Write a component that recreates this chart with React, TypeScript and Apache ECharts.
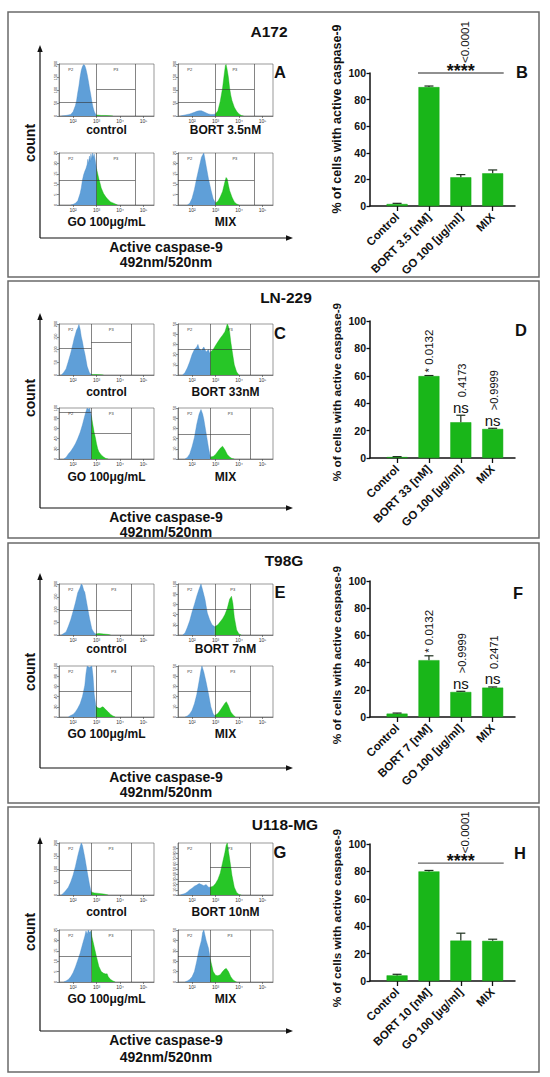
import React, { useEffect, useRef } from "react";
import * as echarts from "echarts";

const FONT = '"Liberation Sans", Arial, Helvetica, sans-serif';
const INK = "#111111";

// ---------------- bar charts (mean % of cells with active caspase-9, error) ----------------
const a172Categories = ["Control", "BORT 3.5 [nM]", "GO 100 [µg/ml]", "MIX"];
const a172Values = [1.5, 89.4, 21.6, 24.6];
const a172Errors = [0.5, 0.8, 2.0, 2.5];

const ln229Categories = ["Control", "BORT 33 [nM]", "GO 100 [µg/ml]", "MIX"];
const ln229Values = [0.7, 59.8, 26.1, 21.2];
const ln229Errors = [0.3, 0.4, 5.1, 0.5];

const t98gCategories = ["Control", "BORT 7 [nM]", "GO 100 [µg/ml]", "MIX"];
const t98gValues = [2.5, 41.8, 18.4, 21.6];
const t98gErrors = [0.4, 3.2, 0.5, 0.5];

const u118Categories = ["Control", "BORT 10 [nM]", "GO 100 [µg/ml]", "MIX"];
const u118Values = [4.1, 80.0, 29.5, 29.3];
const u118Errors = [0.8, 0.7, 5.4, 1.2];

const barTickIndex = [0, 1, 2, 3];

// significance annotations
const a172Bracket = { from: 1, to: 3, y: 100, stars: "****", p: "<0.0001" };
const u118Bracket = { from: 1, to: 3, y: 86, stars: "****", p: "<0.0001" };
const ln229Marks = [
  { i: 1, ns: false, text: "* 0.0132" },
  { i: 2, ns: true, text: "0.4173" },
  { i: 3, ns: true, text: ">0.9999" },
];
const t98gMarks = [
  { i: 1, ns: false, text: "* 0.0132" },
  { i: 2, ns: true, text: ">0.9999" },
  { i: 3, ns: true, text: "0.2471" },
];

// ---------------- flow cytometry histograms (x = log10 fluorescence, y = count) ----------------
const histTickValues = [2, 3, 4, 5];
const histTickLabels = ["10²", "10³", "10⁴", "10⁵"];

// A172
const a172Labels = ["control", "BORT 3.5nM", "GO 100μg/mL", "MIX"];
const a172Gates = [3.0, 4.65];
const a172YMax = [200, 200, 25, 25];
const a172YStep = [50, 50, 5, 5];
const a172P2Level = [54, 54, 12, 12];
const a172P3Level = [104, 104, 12, 12];
const a172ControlBlue = [[1.5,0],[1.7,2],[1.9,6],[2.0,16],[2.1,40],[2.15,60],[2.2,90],[2.25,116],[2.3,150],[2.35,176],[2.4,190],[2.45,198],[2.5,194],[2.55,180],[2.6,160],[2.65,136],[2.7,108],[2.75,84],[2.8,56],[2.85,34],[2.9,18],[2.95,8],[3.0,4]];
const a172ControlGreen = [[3.0,4],[3.2,2],[3.4,2],[3.6,1],[3.7,0]];
const a172BortBlue = [[1.5,0],[1.7,4],[1.9,8],[2.1,14],[2.2,18],[2.3,20],[2.4,20],[2.5,16],[2.6,12],[2.7,8],[2.8,6],[2.9,6],[3.0,8]];
const a172BortGreen = [[3.0,8],[3.1,20],[3.2,56],[3.3,108],[3.37,160],[3.42,194],[3.45,198],[3.5,176],[3.55,148],[3.6,108],[3.65,80],[3.7,60],[3.8,34],[3.9,18],[4.0,8],[4.1,2],[4.2,0]];
const a172GoBlue = [[1.9,0],[2.0,0.3],[2.1,0.8],[2.2,2],[2.3,5.5],[2.35,8.2],[2.4,12],[2.45,14.5],[2.5,16.2],[2.55,17.5],[2.6,19.5],[2.63,22],[2.66,20],[2.7,23.5],[2.73,21],[2.76,24.5],[2.8,22],[2.83,25],[2.86,23],[2.9,24.5],[2.95,21],[3.0,17.5]];
const a172GoGreen = [[3.0,17.5],[3.05,15],[3.1,12.5],[3.15,10.5],[3.2,8.2],[3.3,5.5],[3.4,3.8],[3.5,2.5],[3.6,1.5],[3.7,1],[3.8,0.5],[3.9,0]];
const a172MixBlue = [[1.8,0],[1.9,0.8],[2.0,3.2],[2.1,7.5],[2.2,13],[2.3,18],[2.4,23],[2.45,24],[2.5,25],[2.55,22],[2.6,18.8],[2.7,12.5],[2.8,7.5],[2.9,3],[3.0,1]];
const a172MixGreen = [[3.0,1],[3.1,1.8],[3.2,3.8],[3.3,6.5],[3.4,11.2],[3.45,13.2],[3.5,12.5],[3.55,9.5],[3.6,7],[3.7,3.8],[3.8,1.5],[3.9,0.5],[4.0,0]];

// LN-229
const ln229Labels = ["control", "BORT 33nM", "GO 100μg/mL", "MIX"];
const ln229Gates = [2.78, 4.47];
const ln229YMax = [200, 50, 100, 50];
const ln229YStep = [50, 10, 20, 10];
const ln229P2Level = [106, 25.5, 92, 24.5];
const ln229P3Level = [130, 25.5, 51, 24.5];
const ln229ControlBlue = [[1.5,0],[1.6,10],[1.7,24],[1.8,54],[1.9,86],[2.0,124],[2.05,144],[2.1,160],[2.15,176],[2.2,184],[2.25,198],[2.3,180],[2.35,150],[2.4,130],[2.45,104],[2.5,84],[2.55,60],[2.6,34],[2.7,8],[2.78,2]];
const ln229ControlGreen = [[2.78,2],[3.0,2],[3.2,1],[3.3,0]];
const ln229BortBlue = [[1.6,0],[1.7,2.5],[1.8,7],[1.9,13],[2.0,20],[2.1,25],[2.2,27.5],[2.25,30],[2.3,26],[2.4,24],[2.5,27.5],[2.55,25],[2.6,22.5],[2.7,25],[2.75,21],[2.78,22.5]];
const ln229BortGreen = [[2.78,22.5],[2.9,25],[3.0,29],[3.1,32.5],[3.2,36],[3.3,39],[3.4,42.5],[3.45,46],[3.5,50],[3.55,47.5],[3.6,42.5],[3.65,32.5],[3.7,25],[3.75,17.5],[3.8,10],[3.9,3],[4.0,0]];
const ln229GoBlue = [[1.6,0],[1.7,3],[1.8,10],[1.9,15],[2.0,22],[2.1,30],[2.2,40],[2.3,52],[2.4,67],[2.5,85],[2.55,93],[2.6,100],[2.65,97],[2.7,100],[2.78,85]];
const ln229GoGreen = [[2.78,85],[2.85,65],[2.9,52],[2.95,42],[3.0,30],[3.05,20],[3.1,14],[3.2,8],[3.3,4],[3.4,1],[3.5,0]];
const ln229MixBlue = [[1.7,0],[1.8,1.5],[1.9,5],[2.0,12],[2.1,21],[2.2,34],[2.3,44],[2.38,48.5],[2.45,44],[2.5,39],[2.6,25],[2.7,11],[2.78,2]];
const ln229MixGreen = [[2.78,2],[2.9,2.5],[3.0,4.5],[3.1,7.5],[3.2,10.5],[3.3,12.5],[3.4,9],[3.5,4.5],[3.6,2],[3.7,0.5],[3.8,0]];

// T98G
const t98gLabels = ["control", "BORT 7nM", "GO 100μg/mL", "MIX"];
const t98gGates = [2.97, 4.5];
const t98gYMax = [200, 100, 100, 50];
const t98gYStep = [50, 20, 20, 10];
const t98gP2Level = [98, 51, 51, 25.5];
const t98gP3Level = [98, 51, 51, 25.5];
const t98gControlBlue = [[1.5,0],[1.6,6],[1.7,12],[1.8,34],[1.9,60],[2.0,92],[2.1,126],[2.2,166],[2.3,186],[2.35,200],[2.4,194],[2.45,176],[2.5,168],[2.6,116],[2.7,66],[2.8,24],[2.9,8],[2.97,4]];
const t98gControlGreen = [[2.97,4],[3.1,6],[3.3,4],[3.5,2],[3.6,0]];
const t98gBortBlue = [[1.6,0],[1.7,4],[1.8,15],[1.9,28],[2.0,45],[2.1,60],[2.2,76],[2.3,90],[2.38,100],[2.45,88],[2.55,70],[2.65,43],[2.75,30],[2.85,20],[2.97,16]];
const t98gBortGreen = [[2.97,16],[3.1,20],[3.2,26],[3.3,32],[3.4,40],[3.5,52],[3.6,70],[3.68,76],[3.74,62],[3.8,35],[3.9,10],[4.0,2],[4.1,0]];
const t98gGoBlue = [[1.8,0],[1.9,3],[2.0,5],[2.1,10],[2.2,17],[2.3,26],[2.4,40],[2.5,62],[2.55,85],[2.6,100],[2.7,97],[2.8,100],[2.85,80],[2.9,45],[2.97,22]];
const t98gGoGreen = [[2.97,22],[3.05,18],[3.15,17],[3.25,20],[3.3,19],[3.4,14],[3.5,10],[3.6,5],[3.7,2],[3.8,0]];
const t98gMixBlue = [[1.7,0],[1.8,1],[1.9,3],[2.0,6.5],[2.1,13],[2.2,22],[2.3,35],[2.38,46],[2.42,50],[2.5,44],[2.6,34],[2.7,22.5],[2.8,10],[2.9,3],[2.97,1.5]];
const t98gMixGreen = [[2.97,1.5],[3.1,3.5],[3.2,6.5],[3.3,10],[3.4,13.5],[3.46,15],[3.55,11],[3.65,5],[3.75,2],[3.85,0]];

// U118-MG
const u118Labels = ["control", "BORT 10nM", "GO 100μg/mL", "MIX"];
const u118Gates = [2.77, 4.47];
const u118YMax = [200, 100, 25, 50];
const u118YStep = [50, 10, 5, 10];
const u118P2Level = [96, 27, 12.5, 25];
const u118P3Level = [96, 54, 12.5, 25];
const u118ControlBlue = [[1.5,0],[1.6,8],[1.7,18],[1.8,30],[1.9,50],[2.0,76],[2.1,110],[2.2,150],[2.3,186],[2.35,200],[2.4,190],[2.5,144],[2.6,90],[2.7,40],[2.77,12]];
const u118ControlGreen = [[2.77,12],[2.9,8],[3.1,6],[3.3,4],[3.5,0]];
const u118BortBlue = [[1.5,0],[1.7,3],[1.8,6],[1.9,10],[2.0,13],[2.1,17],[2.2,19],[2.3,22],[2.4,20],[2.5,18],[2.6,20],[2.7,15],[2.77,15]];
const u118BortGreen = [[2.77,15],[2.9,17],[3.0,22],[3.1,30],[3.2,42],[3.3,62],[3.4,82],[3.45,95],[3.5,100],[3.55,85],[3.6,70],[3.7,38],[3.8,15],[3.9,5],[4.0,1],[4.1,0]];
const u118GoBlue = [[1.6,0],[1.7,0.5],[1.8,1.2],[1.9,2.5],[2.0,4.5],[2.1,7.2],[2.2,10.5],[2.3,13.8],[2.4,18],[2.5,22],[2.55,24.5],[2.6,23],[2.65,25],[2.7,23.8],[2.77,24.5]];
const u118GoGreen = [[2.77,24.5],[2.8,22],[2.85,19.5],[2.9,17],[3.0,12],[3.1,7.5],[3.2,5],[3.3,4.2],[3.4,3.8],[3.45,4],[3.5,2.5],[3.6,1.2],[3.7,0.5],[3.8,0]];
const u118MixBlue = [[1.7,0],[1.8,1],[1.9,2.5],[2.0,5],[2.1,10],[2.2,20],[2.3,31.5],[2.4,40],[2.45,47.5],[2.5,50],[2.55,45],[2.6,40],[2.7,32.5],[2.77,22.5]];
const u118MixGreen = [[2.77,22.5],[2.85,15],[2.9,10],[3.0,6.5],[3.1,6],[3.2,7],[3.3,10],[3.4,12.5],[3.46,13],[3.55,10],[3.65,5],[3.75,2],[3.85,0.5],[3.9,0]];

// ---------------- assemble ----------------
function histSet(labels: string[], gates: number[], yMax: number[], yStep: number[], p2: number[], p3: number[], curves: any[][]) {
  return labels.map((label, k) => ({
    label, gates, yMax: yMax[k], yStep: yStep[k], p2: p2[k], p3: p3[k],
    blue: curves[k][0], green: curves[k][1],
  }));
}

const PANELS = [
  {
    title: "A172", letters: ["A", "B"], cats: a172Categories, values: a172Values, errors: a172Errors,
    bracket: a172Bracket, marks: [] as any[],
    hists: histSet(a172Labels, a172Gates, a172YMax, a172YStep, a172P2Level, a172P3Level,
      [[a172ControlBlue, a172ControlGreen], [a172BortBlue, a172BortGreen], [a172GoBlue, a172GoGreen], [a172MixBlue, a172MixGreen]]),
  },
  {
    title: "LN-229", letters: ["C", "D"], cats: ln229Categories, values: ln229Values, errors: ln229Errors,
    bracket: null, marks: ln229Marks,
    hists: histSet(ln229Labels, ln229Gates, ln229YMax, ln229YStep, ln229P2Level, ln229P3Level,
      [[ln229ControlBlue, ln229ControlGreen], [ln229BortBlue, ln229BortGreen], [ln229GoBlue, ln229GoGreen], [ln229MixBlue, ln229MixGreen]]),
  },
  {
    title: "T98G", letters: ["E", "F"], cats: t98gCategories, values: t98gValues, errors: t98gErrors,
    bracket: null, marks: t98gMarks,
    hists: histSet(t98gLabels, t98gGates, t98gYMax, t98gYStep, t98gP2Level, t98gP3Level,
      [[t98gControlBlue, t98gControlGreen], [t98gBortBlue, t98gBortGreen], [t98gGoBlue, t98gGoGreen], [t98gMixBlue, t98gMixGreen]]),
  },
  {
    title: "U118-MG", letters: ["G", "H"], cats: u118Categories, values: u118Values, errors: u118Errors,
    bracket: u118Bracket, marks: [] as any[],
    hists: histSet(u118Labels, u118Gates, u118YMax, u118YStep, u118P2Level, u118P3Level,
      [[u118ControlBlue, u118ControlGreen], [u118BortBlue, u118BortGreen], [u118GoBlue, u118GoGreen], [u118MixBlue, u118MixGreen]]),
  },
];

// ---------------- layout (pixels) ----------------
const LAYOUT = [
  { box: [8, 12, 531, 265], title: [269, 31], arrowTop: 45, corner: 238, count: 143, rows: [64, 153], rowH: 52, labelY: [130, 222], xlab: [247, 262], letterL: [280, 72], letterR: [522, 72], bar: [73, 206], yname: [337, 119], ynameSize: 12.5, bracketColor: "#222" },
  { box: [8, 281, 531, 257], title: [286, 297], arrowTop: 313, corner: 508, count: 398, rows: [324, 408], rowH: 51, labelY: [392, 477], xlab: [517, 532], letterL: [280, 333], letterR: [521, 330], bar: [321, 458], yname: [337, 392], ynameSize: 11.8, bracketColor: "#222" },
  { box: [8, 543, 531, 260], title: [284, 560], arrowTop: 573, corner: 768, count: 672, rows: [584, 666], rowH: 51, labelY: [648, 734], xlab: [777, 792], letterL: [280, 592], letterR: [518, 593], bar: [581, 717], yname: [337, 655], ynameSize: 11.8, bracketColor: "#222" },
  { box: [8, 807, 531, 265], title: [285, 824], arrowTop: 837, corner: 1031, count: 932, rows: [843, 930], rowH: 52, labelY: [912, 999], xlab: [1040, 1057], letterL: [280, 852], letterR: [520, 853], bar: [844, 981], yname: [337, 918], ynameSize: 11.8, bracketColor: "#666" },
];
const COL_X = [59, 178];
const BOX_W = 95;
const HX_MIN = 1.4;
const HX_MAX = 5.45;
const BAR_LEFT = 370;
const BAR_W = 145;
const BAR_XMIN = -0.85;
const BAR_XMAX = 3.7;

const BLUE = "#5f9fd8";
const BLUE_EDGE = "#4a8bc8";
const GREEN = "#27c627";
const GREEN_EDGE = "#17ad17";
const BAR_GREEN = "#19b619";
const BAR_EDGE = "#14aa14";
const ERR = "#1c2e1c";

function txt(x: number, y: number, text: string, size: number, opts: any = {}) {
  return {
    type: "text", x, y, rotation: opts.rotation || 0, z: 20, silent: true,
    style: {
      text, fontSize: size, fontWeight: opts.weight || "bold", fontFamily: FONT,
      fill: opts.color || INK, align: opts.align || "center", verticalAlign: opts.valign || "middle",
    },
  };
}

function buildOption() {
  const grid: any[] = [];
  const xAxis: any[] = [];
  const yAxis: any[] = [];
  const series: any[] = [];
  const graphic: any[] = [];

  PANELS.forEach((p, pi) => {
    const L = LAYOUT[pi];
    // frame, titles, letters
    graphic.push({ type: "rect", shape: { x: L.box[0], y: L.box[1], width: L.box[2], height: L.box[3] }, style: { fill: "none", stroke: "#6a6a6a", lineWidth: 1.5 }, silent: true });
    graphic.push(txt(L.title[0], L.title[1], p.title, 15.5));
    graphic.push(txt(L.letterL[0], L.letterL[1], p.letters[0], 16.5));
    graphic.push(txt(L.letterR[0], L.letterR[1], p.letters[1], 16.5));
    // big axes with arrows
    graphic.push({ type: "line", shape: { x1: 40, y1: L.arrowTop + 5, x2: 40, y2: L.corner }, style: { stroke: INK, lineWidth: 1.2 }, silent: true });
    graphic.push({ type: "line", shape: { x1: 40, y1: L.corner, x2: 287, y2: L.corner }, style: { stroke: INK, lineWidth: 1.2 }, silent: true });
    graphic.push({ type: "polygon", shape: { points: [[40, L.arrowTop], [37.3, L.arrowTop + 7], [42.7, L.arrowTop + 7]] }, style: { fill: INK }, silent: true });
    graphic.push({ type: "polygon", shape: { points: [[293, L.corner], [286, L.corner - 2.7], [286, L.corner + 2.7]] }, style: { fill: INK }, silent: true });
    graphic.push(txt(30, L.count, "count", 14, { rotation: Math.PI / 2 }));
    graphic.push(txt(166, L.xlab[0], "Active caspase-9", 14));
    graphic.push(txt(166, L.xlab[1], "492nm/520nm", 14));
    graphic.push(txt(L.yname[0], L.yname[1], "% of cells with active caspase-9", L.ynameSize, { rotation: Math.PI / 2 }));

    // histograms
    p.hists.forEach((h, hi) => {
      const row = Math.floor(hi / 2);
      const col = hi % 2;
      const gi = grid.length;
      const top = L.rows[row];
      grid.push({ left: COL_X[col], top, width: BOX_W, height: L.rowH, show: true, borderColor: "#555", borderWidth: 0.6, backgroundColor: "#fff" });
      xAxis.push({
        type: "value", gridIndex: gi, min: HX_MIN, max: HX_MAX,
        name: h.label, nameLocation: "middle", nameGap: L.labelY[row] - (top + L.rowH) - 6,
        nameTextStyle: { fontSize: 12, fontWeight: "bold", color: INK, fontFamily: FONT },
        axisLine: { show: true, onZero: false, lineStyle: { color: "#444", width: 0.6 } },
        axisTick: { show: true, customValues: histTickValues, length: 2, lineStyle: { color: "#444", width: 0.6 } },
        axisLabel: { show: true, customValues: histTickValues, formatter: (v: number) => histTickLabels[histTickValues.indexOf(v)] || "", fontSize: 5, margin: 2, color: "#333", fontFamily: FONT },
        splitLine: { show: false },
      });
      yAxis.push({
        type: "value", gridIndex: gi, min: 0, max: h.yMax, interval: h.yStep,
        axisLine: { show: true, onZero: false, lineStyle: { color: "#444", width: 0.6 } },
        axisTick: { show: true, length: 2, lineStyle: { color: "#444", width: 0.6 } },
        axisLabel: { show: true, fontSize: 4, rotate: 90, margin: 2, color: "#333", fontFamily: FONT },
        splitLine: { show: false },
      });
      const g1 = h.gates[0];
      const g2 = h.gates[1];
      series.push({
        type: "line", xAxisIndex: gi, yAxisIndex: gi, data: h.blue, symbol: "none", silent: true, z: 2,
        lineStyle: { color: BLUE_EDGE, width: 0.4 }, areaStyle: { color: BLUE, opacity: 1 },
      });
      series.push({
        type: "line", xAxisIndex: gi, yAxisIndex: gi, data: h.green, symbol: "none", silent: true, z: 2,
        lineStyle: { color: GREEN_EDGE, width: 0.4 }, areaStyle: { color: GREEN, opacity: 1 },
        markLine: {
          silent: true, symbol: ["none", "none"], label: { show: false },
          lineStyle: { color: "#333", width: 0.6, type: "solid" },
          data: [
            [{ coord: [HX_MIN, h.p2] }, { coord: [g1, h.p2] }],
            [{ coord: [g1, h.p3] }, { coord: [g2, h.p3] }],
            [{ coord: [g1, 0] }, { coord: [g1, h.yMax] }],
            [{ coord: [g2, 0] }, { coord: [g2, h.yMax] }],
          ],
        },
        markPoint: {
          silent: true, symbol: "circle", symbolSize: 1, itemStyle: { color: "rgba(0,0,0,0)" },
          label: { show: true, formatter: (d: any) => d.name, fontSize: 4, color: "#333", position: "inside", fontFamily: FONT },
          data: [
            { name: "P2", coord: [1.9, h.yMax * 0.9] },
            { name: "P3", coord: [(g1 + g2) / 2, h.yMax * 0.9] },
          ],
        },
      });
    });

    // bar chart
    const gi = grid.length;
    grid.push({ left: BAR_LEFT, top: L.bar[0], width: BAR_W, height: L.bar[1] - L.bar[0] });
    const cats = p.cats;
    xAxis.push({
      type: "value", gridIndex: gi, min: BAR_XMIN, max: BAR_XMAX,
      axisLine: { show: true, onZero: false, lineStyle: { color: INK, width: 1.5 } },
      axisTick: { show: true, customValues: barTickIndex, length: 5, lineStyle: { color: INK, width: 1.3 } },
      axisLabel: { show: true, customValues: barTickIndex, formatter: (v: number) => cats[Math.round(v)] || "", rotate: 45, fontSize: 11.5, fontWeight: "bold", color: INK, margin: 9, fontFamily: FONT },
      splitLine: { show: false },
    });
    yAxis.push({
      type: "value", gridIndex: gi, min: 0, max: 100, interval: 20,
      axisLine: { show: true, onZero: false, lineStyle: { color: INK, width: 1.5 } },
      axisTick: { show: true, length: 3.5, lineStyle: { color: INK, width: 1.3 } },
      axisLabel: { show: true, fontSize: 10.5, fontWeight: "bold", color: INK, margin: 4, fontFamily: FONT },
      splitLine: { show: false },
    });
    series.push({
      type: "bar", xAxisIndex: gi, yAxisIndex: gi, barWidth: 21, silent: true,
      data: p.values.map((v, i) => [i, v]),
      itemStyle: { color: BAR_GREEN, borderColor: BAR_EDGE, borderWidth: 0.5 },
    });
    const vals = p.values;
    const errs = p.errors;
    series.push({
      type: "custom", xAxisIndex: gi, yAxisIndex: gi, silent: true, z: 5, clip: false,
      data: vals.map((v, i) => [i, v, v + errs[i]]),
      renderItem: (params: any, api: any) => {
        const x = api.value(0);
        const a = api.coord([x, api.value(1)]);
        const b = api.coord([x, api.value(2)]);
        return {
          type: "group",
          children: [
            { type: "line", shape: { x1: a[0], y1: a[1], x2: b[0], y2: b[1] }, style: { stroke: ERR, lineWidth: 1.2 } },
            { type: "line", shape: { x1: b[0] - 4.5, y1: b[1], x2: b[0] + 4.5, y2: b[1] }, style: { stroke: ERR, lineWidth: 1.2 } },
          ],
        };
      },
    });
    if (p.marks.length) {
      const marks = p.marks;
      series.push({
        type: "custom", xAxisIndex: gi, yAxisIndex: gi, silent: true, z: 6, clip: false,
        data: marks.map((m: any) => [m.i, vals[m.i] + errs[m.i]]),
        renderItem: (params: any, api: any) => {
          const m = marks[params.dataIndex];
          const pt = api.coord([api.value(0), api.value(1)]);
          const children: any[] = [];
          if (m.ns) {
            children.push({ type: "text", x: pt[0], y: pt[1] - 8, style: { text: "ns", fontSize: 15, fontFamily: FONT, fill: INK, align: "center", verticalAlign: "middle" } });
            children.push({ type: "text", x: pt[0] + 1, y: pt[1] - 18, rotation: Math.PI / 2, style: { text: m.text, fontSize: 11, fontFamily: FONT, fill: INK, align: "left", verticalAlign: "middle" } });
          } else {
            children.push({ type: "text", x: pt[0], y: pt[1] - 3, rotation: Math.PI / 2, style: { text: m.text, fontSize: 11.5, fontFamily: FONT, fill: INK, align: "left", verticalAlign: "middle" } });
          }
          return { type: "group", children };
        },
      });
    }
    if (p.bracket) {
      const br = p.bracket;
      const col = L.bracketColor;
      series.push({
        type: "custom", xAxisIndex: gi, yAxisIndex: gi, silent: true, z: 6, clip: false,
        data: [[br.from, br.to, br.y]],
        renderItem: (params: any, api: any) => {
          const a = api.coord([api.value(0), api.value(2)]);
          const b = api.coord([api.value(1), api.value(2)]);
          const x1 = a[0] - 11;
          const x2 = b[0] + 11;
          const y = a[1];
          const cx = (x1 + x2) / 2;
          return {
            type: "group",
            children: [
              { type: "line", shape: { x1, y1: y, x2, y2: y }, style: { stroke: col, lineWidth: 1.2 } },
              { type: "text", x: cx, y: y - 2.5, style: { text: br.stars, fontSize: 18, fontWeight: "bold", fontFamily: FONT, fill: INK, align: "center", verticalAlign: "middle" } },
              { type: "text", x: cx + 4, y: y - 10, rotation: Math.PI / 2, style: { text: br.p, fontSize: 11.5, fontFamily: FONT, fill: INK, align: "left", verticalAlign: "middle" } },
            ],
          };
        },
      });
    }
  });

  return {
    animation: false,
    backgroundColor: "#ffffff",
    textStyle: { fontFamily: FONT },
    grid, xAxis, yAxis, series, graphic,
  };
}

export default function App() {
  const ref = useRef<HTMLDivElement>(null);
  useEffect(() => {
    document.body.style.margin = "0";
    const chart = echarts.init(ref.current as HTMLDivElement, null, { renderer: "svg", width: 550, height: 1077 });
    chart.setOption(buildOption() as any);
    return () => chart.dispose();
  }, []);
  return <div ref={ref} style={{ position: "absolute", left: 0, top: 0, width: 550, height: 1077, background: "#fff" }} />;
}
